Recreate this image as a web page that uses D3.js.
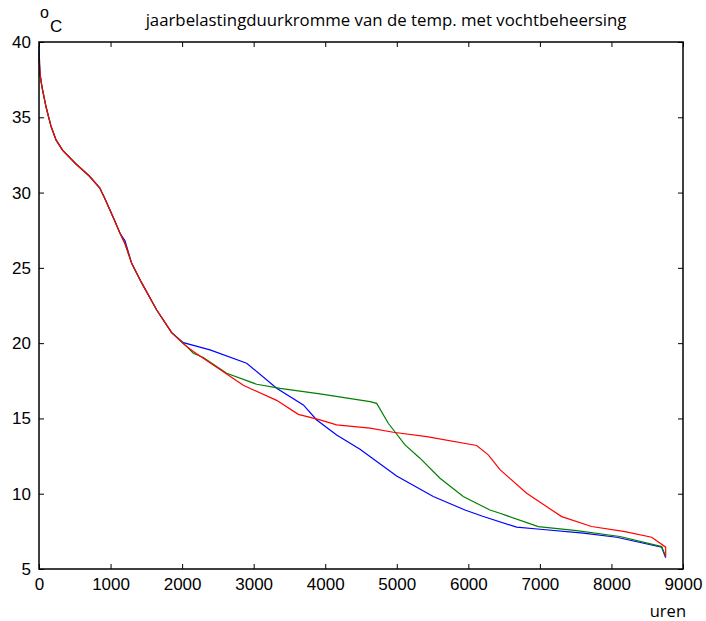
<!DOCTYPE html>
<html>
<head>
<meta charset="utf-8">
<script src="https://cdn.jsdelivr.net/npm/d3@7"></script>
<style>
  body { margin: 0; background: #fff; }
  .tick text { font-family: "Liberation Sans", Arial, sans-serif; font-size: 17px; fill: #000; }
</style>
</head>
<body>
<script>
// duration curves: hours (sorted) vs temperature
var hoursBlue = [0, 14, 42, 98, 168, 238, 331, 517, 703, 850, 920, 1052, 1132, 1202, 1295, 1435, 1645, 1854, 2017,
    2390, 2902, 3321, 3694, 3881, 4160, 4486, 4998, 5510, 5953, 6200, 6675, 7001, 7607, 8073, 8702, 8758];
var tempBlue = [39.7, 37.9, 37.0, 35.7, 34.4, 33.5, 32.8, 31.9, 31.1, 30.3, 29.6, 28.2, 27.3, 26.8, 25.3, 24.0, 22.2, 20.7, 20.03,
    19.55, 18.67, 17.0, 15.9, 14.9, 13.9, 12.95, 11.18, 9.81, 8.92, 8.5, 7.78, 7.64, 7.38, 7.11, 6.45, 5.75];

var hoursGreen = [0, 14, 42, 98, 168, 238, 331, 517, 703, 850, 920, 1052, 1132, 1202, 1295, 1435, 1645, 1854, 2017,
    2157, 2296, 2623, 3042, 3368, 3927, 4626, 4719, 4881, 5115, 5324, 5604, 5929, 6302, 6442, 6978, 7514, 8119, 8702, 8758];
var tempGreen = [39.2, 37.8, 37.0, 35.7, 34.4, 33.5, 32.8, 31.9, 31.1, 30.3, 29.6, 28.2, 27.3, 26.6, 25.3, 24.0, 22.2, 20.7, 20.0,
    19.33, 19.05, 18.0, 17.27, 17.0, 16.63, 16.12, 16.0, 14.68, 13.24, 12.36, 11.03, 9.81, 8.92, 8.7, 7.82, 7.55, 7.16, 6.49, 5.82];

var hoursRed = [0, 14, 42, 98, 168, 238, 331, 517, 703, 850, 920, 1052, 1132, 1202, 1295, 1435, 1645, 1854, 2017,
    2157, 2296, 2855, 3321, 3624, 3927, 4160, 4626, 4951, 5418, 6116, 6279, 6442, 6815, 7165, 7305, 7723, 8189, 8562, 8758, 8758];
var tempRed = [38.9, 37.9, 37.0, 35.7, 34.4, 33.5, 32.8, 31.9, 31.1, 30.3, 29.6, 28.2, 27.3, 26.6, 25.3, 24.0, 22.2, 20.7, 19.95,
    19.44, 19.0, 17.2, 16.2, 15.27, 14.9, 14.57, 14.35, 14.08, 13.79, 13.2, 12.58, 11.6, 10.03, 8.92, 8.48, 7.82, 7.48, 7.11, 6.45, 5.82];

var xTicks = [0, 1000, 2000, 3000, 4000, 5000, 6000, 7000, 8000, 9000];
var yTicks = [5, 10, 15, 20, 25, 30, 35, 40];

var series = [
    { hours: hoursBlue, temp: tempBlue, color: "#0000ff" },
    { hours: hoursGreen, temp: tempGreen, color: "#008000" },
    { hours: hoursRed, temp: tempRed, color: "#ff0000" }
];

var margin = { top: 42, right: 23, bottom: 52, left: 39 };
var width = 706 - margin.left - margin.right,
    height = 621 - margin.top - margin.bottom;

var svg = d3.select("body").append("svg")
    .attr("width", 706)
    .attr("height", 621);

var g = svg.append("g")
    .attr("transform", "translate(" + margin.left + "," + margin.top + ")");

var x = d3.scaleLinear().domain([0, 9000]).range([0, width]);
var y = d3.scaleLinear().domain([5, 40]).range([height, 0]);

var line = d3.line()
    .x(function(d) { return x(d[0]); })
    .y(function(d) { return y(d[1]); });

series.forEach(function(s) {
    g.append("path")
        .datum(d3.zip(s.hours, s.temp))
        .attr("fill", "none")
        .attr("stroke", s.color)
        .attr("stroke-width", 1.2)
        .attr("d", line);
});

// axes, ticks pointing inward on all four sides
g.append("g")
    .attr("transform", "translate(0," + height + ")")
    .call(d3.axisBottom(x).tickValues(xTicks).tickFormat(d3.format("d")).tickSizeInner(-5).tickSizeOuter(0).tickPadding(9))
    .call(function(a) { a.select(".domain").remove(); });

g.append("g")
    .call(d3.axisTop(x).tickValues(xTicks).tickSizeInner(-5).tickSizeOuter(0).tickFormat(""))
    .call(function(a) { a.select(".domain").remove(); });

g.append("g")
    .call(d3.axisLeft(y).tickValues(yTicks).tickSizeInner(-5).tickSizeOuter(0).tickPadding(8))
    .call(function(a) { a.select(".domain").remove(); });

g.append("g")
    .attr("transform", "translate(" + width + ",0)")
    .call(d3.axisRight(y).tickValues(yTicks).tickSizeInner(-5).tickSizeOuter(0).tickFormat(""))
    .call(function(a) { a.select(".domain").remove(); });

g.selectAll(".tick line").attr("stroke", "#000").attr("stroke-width", 1);

g.append("rect")
    .attr("width", width)
    .attr("height", height)
    .attr("fill", "none")
    .attr("stroke", "#000")
    .attr("stroke-width", 1.5);

// title and labels
svg.append("text")
    .attr("x", 386)
    .attr("y", 26)
    .attr("text-anchor", "middle")
    .attr("font-family", "Open Sans, sans-serif")
    .attr("font-size", 16.8)
    .text("jaarbelastingduurkromme van de temp. met vochtbeheersing");

svg.append("text")
    .attr("x", 40)
    .attr("y", 18)
    .attr("font-family", "Liberation Sans, Arial, sans-serif")
    .attr("font-size", 16)
    .text("o");

svg.append("text")
    .attr("x", 50)
    .attr("y", 32)
    .attr("font-family", "Liberation Sans, Arial, sans-serif")
    .attr("font-size", 17)
    .text("C");

svg.append("text")
    .attr("x", 686)
    .attr("y", 617)
    .attr("text-anchor", "end")
    .attr("font-family", "Open Sans, sans-serif")
    .attr("font-size", 16.5)
    .text("uren");
</script>
</body>
</html>
